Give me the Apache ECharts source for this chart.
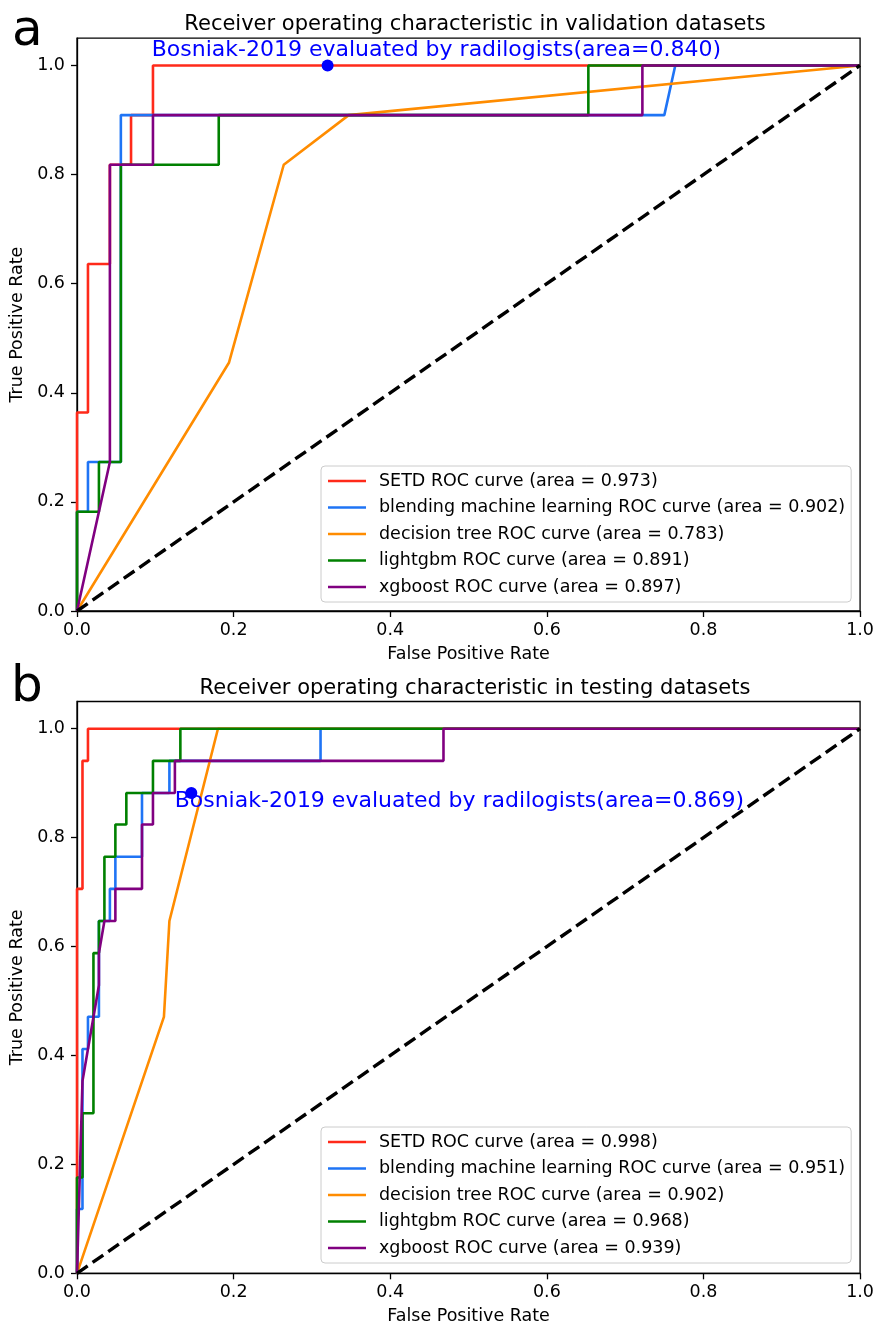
<!DOCTYPE html>
<html>
<head>
<meta charset="utf-8">
<script src="https://cdn.jsdelivr.net/npm/echarts@6/dist/echarts.min.js"></script>
<style>
html,body{margin:0;padding:0;background:#fff;}
#chart{width:877px;height:1328px;}
</style>
</head>
<body>
<div id="chart"></div>
<script>
// ---------- tick labels ----------
const xTicks = [0, 0.2, 0.4, 0.6, 0.8, 1.0];
const yTicks = [0, 0.2, 0.4, 0.6, 0.8, 1.0];

// ---------- series names ----------
const valNames = [
  'SETD ROC curve (area = 0.973)',
  'blending machine learning ROC curve (area = 0.902)',
  'decision tree ROC curve (area = 0.783)',
  'lightgbm ROC curve (area = 0.891)',
  'xgboost ROC curve (area = 0.897)'
];
const testNames = [
  'SETD ROC curve (area = 0.998)',
  'blending machine learning ROC curve (area = 0.951)',
  'decision tree ROC curve (area = 0.902)',
  'lightgbm ROC curve (area = 0.968)',
  'xgboost ROC curve (area = 0.939)'
];

// ---------- validation datasets ----------
const valSetdFpr = [0, 0, 0.014, 0.014, 0.042, 0.042, 0.069, 0.069, 0.097, 0.097, 1];
const valSetdTpr = [0, 0.364, 0.364, 0.636, 0.636, 0.818, 0.818, 0.909, 0.909, 1, 1];
const valBlendFpr = [0, 0, 0.014, 0.014, 0.056, 0.056, 0.75, 0.764, 1];
const valBlendTpr = [0, 0.182, 0.182, 0.273, 0.273, 0.909, 0.909, 1, 1];
const valTreeFpr = [0, 0.194, 0.264, 0.347, 1];
const valTreeTpr = [0, 0.455, 0.818, 0.909, 1];
const valLgbmFpr = [0, 0, 0.028, 0.028, 0.056, 0.056, 0.181, 0.181, 0.653, 0.653, 1];
const valLgbmTpr = [0, 0.182, 0.182, 0.273, 0.273, 0.818, 0.818, 0.909, 0.909, 1, 1];
const valXgbFpr = [0, 0.042, 0.042, 0.097, 0.097, 0.722, 0.722, 1];
const valXgbTpr = [0, 0.273, 0.818, 0.818, 0.909, 0.909, 1, 1];
const valBosniakPoint = [0.32, 1.0];
const valBosniakText = 'Bosniak-2019 evaluated by radilogists(area=0.840)';
const valBosniakTextAnchor = [0.0954, 1.028];

// ---------- testing datasets ----------
const testSetdFpr = [0, 0, 0.007, 0.007, 0.014, 0.014, 1];
const testSetdTpr = [0, 0.706, 0.706, 0.941, 0.941, 1, 1];
const testBlendFpr = [0, 0, 0.007, 0.007, 0.014, 0.014, 0.028, 0.028, 0.042, 0.042, 0.049, 0.049, 0.083, 0.083, 0.118, 0.118, 0.311, 0.311, 1];
const testBlendTpr = [0, 0.118, 0.118, 0.412, 0.412, 0.471, 0.471, 0.647, 0.647, 0.706, 0.706, 0.765, 0.765, 0.882, 0.882, 0.941, 0.941, 1, 1];
const testTreeFpr = [0, 0.111, 0.118, 0.18, 1];
const testTreeTpr = [0, 0.471, 0.647, 1, 1];
const testLgbmFpr = [0, 0, 0.007, 0.007, 0.021, 0.021, 0.028, 0.028, 0.035, 0.035, 0.049, 0.049, 0.063, 0.063, 0.097, 0.097, 0.132, 0.132, 1];
const testLgbmTpr = [0, 0.176, 0.176, 0.294, 0.294, 0.588, 0.588, 0.647, 0.647, 0.765, 0.765, 0.824, 0.824, 0.882, 0.882, 0.941, 0.941, 1, 1];
const testXgbFpr = [0, 0.007, 0.028, 0.028, 0.035, 0.049, 0.049, 0.083, 0.083, 0.097, 0.097, 0.125, 0.125, 0.468, 0.468, 1];
const testXgbTpr = [0, 0.353, 0.529, 0.588, 0.647, 0.647, 0.706, 0.706, 0.824, 0.824, 0.882, 0.882, 0.941, 0.941, 1, 1];
const testBosniakPoint = [0.146, 0.882];
const testBosniakText = 'Bosniak-2019 evaluated by radilogists(area=0.869)';
const testBosniakTextAnchor = [0.1247, 0.866];

const chanceFpr = [0, 1];
const chanceTpr = [0, 1];

const colors = ['#ff2a1a', '#1f74f5', '#ff8c00', '#008000', '#800080'];
const FONT = 'DejaVu Sans';

function pairs(xs, ys) { return xs.map((x, i) => [x, ys[i]]); }

function rocSeries(names, curves, axisIdx) {
  const out = curves.map((c, i) => ({
    type: 'line', name: names[i], xAxisIndex: axisIdx, yAxisIndex: axisIdx,
    data: pairs(c[0], c[1]), symbol: 'none', showSymbol: false,
    lineStyle: { color: colors[i], width: 2.6 }, itemStyle: { color: colors[i] },
    z: 3 + i, animation: false
  }));
  out.push({
    type: 'line', name: 'chance' + axisIdx, xAxisIndex: axisIdx, yAxisIndex: axisIdx,
    data: pairs(chanceFpr, chanceTpr), symbol: 'none',
    lineStyle: { color: '#000', width: 3.4, type: [13, 6] }, z: 9, animation: false
  });
  return out;
}

function bosniak(point, anchor, text, axisIdx) {
  return [{
    type: 'scatter', name: 'bosniakDot' + axisIdx, xAxisIndex: axisIdx, yAxisIndex: axisIdx,
    data: [point], symbolSize: 12, itemStyle: { color: '#0000ff', opacity: 1 }, z: 10, animation: false
  }, {
    type: 'scatter', name: 'bosniakText' + axisIdx, xAxisIndex: axisIdx, yAxisIndex: axisIdx,
    data: [anchor], symbolSize: 0, z: 11, animation: false, silent: true,
    itemStyle: { opacity: 1 },
    label: { show: true, position: 'right', distance: 0, formatter: text, opacity: 1,
      color: '#0000ff', fontSize: 22, fontFamily: FONT }
  }];
}

function xAxis(gridIndex) {
  return {
    type: 'value', gridIndex, min: 0, max: 1, interval: 0.2,
    name: 'False Positive Rate', nameLocation: 'middle', nameGap: 34,
    nameTextStyle: { fontSize: 17.5, color: '#000', fontFamily: FONT },
    axisLine: { show: true, lineStyle: { color: '#000', width: 1.3 } },
    axisTick: { show: true, inside: false, length: 6, customValues: xTicks, lineStyle: { color: '#000', width: 1.3 } },
    axisLabel: { margin: 10, fontSize: 17.5, color: '#000', fontFamily: FONT,
      customValues: xTicks, formatter: v => v.toFixed(1) },
    splitLine: { show: false }
  };
}
function yAxis(gridIndex) {
  return {
    type: 'value', gridIndex, min: 0, max: 1.05, interval: 0.2,
    name: 'True Positive Rate', nameLocation: 'middle', nameGap: 47,
    nameTextStyle: { fontSize: 17.5, color: '#000', fontFamily: FONT },
    axisLine: { show: true, lineStyle: { color: '#000', width: 1.3 } },
    axisTick: { show: true, inside: false, length: 6, customValues: yTicks,
      lineStyle: { color: '#000', width: 1.3 } },
    axisLabel: { margin: 12, fontSize: 17.5, color: '#000', fontFamily: FONT,
      customValues: yTicks, formatter: v => v.toFixed(1) },
    splitLine: { show: false }
  };
}

function legend(names, top) {
  return {
    data: names, orient: 'vertical', left: 321, top: top,
    backgroundColor: 'rgba(255,255,255,0.85)', borderColor: '#cccccc', borderWidth: 1, borderRadius: 4,
    padding: [5, 6, 5, 7], icon: 'rect', itemWidth: 38, itemHeight: 2.6, itemGap: 6.5,
    textStyle: { fontSize: 17.5, color: '#000', fontFamily: FONT, lineHeight: 20, padding: [0, 0, 0, 8] },
    selectedMode: false
  };
}

const chart = echarts.init(document.getElementById('chart'), null, { renderer: 'canvas' });
chart.setOption({
  backgroundColor: '#fff',
  animation: false,
  textStyle: { fontFamily: FONT },
  title: [
    { text: 'Receiver operating characteristic in validation datasets', left: 470, top: 9, textAlign: 'center',
      textStyle: { fontSize: 21, fontWeight: 'normal', color: '#000', fontFamily: FONT } },
    { text: 'Receiver operating characteristic in testing datasets', left: 470, top: 673, textAlign: 'center',
      textStyle: { fontSize: 21, fontWeight: 'normal', color: '#000', fontFamily: FONT } },
    { text: 'a', left: 7, top: 2, textStyle: { fontSize: 50, fontWeight: 'normal', color: '#000', fontFamily: FONT } },
    { text: 'b', left: 6, top: 658, textStyle: { fontSize: 50, fontWeight: 'normal', color: '#000', fontFamily: FONT } }
  ],
  grid: [
    { left: 77, top: 38.2, width: 786, height: 572.8, show: true, borderColor: '#000', borderWidth: 1.3, backgroundColor: 'transparent' },
    { left: 77, top: 701.5, width: 786, height: 571.8, show: true, borderColor: '#000', borderWidth: 1.3, backgroundColor: 'transparent' }
  ],
  xAxis: [xAxis(0), xAxis(1)],
  yAxis: [yAxis(0), yAxis(1)],
  legend: [legend(valNames, 466), legend(testNames, 1127)],
  series: [].concat(
    rocSeries(valNames, [
      [valSetdFpr, valSetdTpr], [valBlendFpr, valBlendTpr], [valTreeFpr, valTreeTpr],
      [valLgbmFpr, valLgbmTpr], [valXgbFpr, valXgbTpr]], 0),
    bosniak(valBosniakPoint, valBosniakTextAnchor, valBosniakText, 0),
    rocSeries(testNames, [
      [testSetdFpr, testSetdTpr], [testBlendFpr, testBlendTpr], [testTreeFpr, testTreeTpr],
      [testLgbmFpr, testLgbmTpr], [testXgbFpr, testXgbTpr]], 1),
    bosniak(testBosniakPoint, testBosniakTextAnchor, testBosniakText, 1)
  )
});
</script>
</body>
</html>
